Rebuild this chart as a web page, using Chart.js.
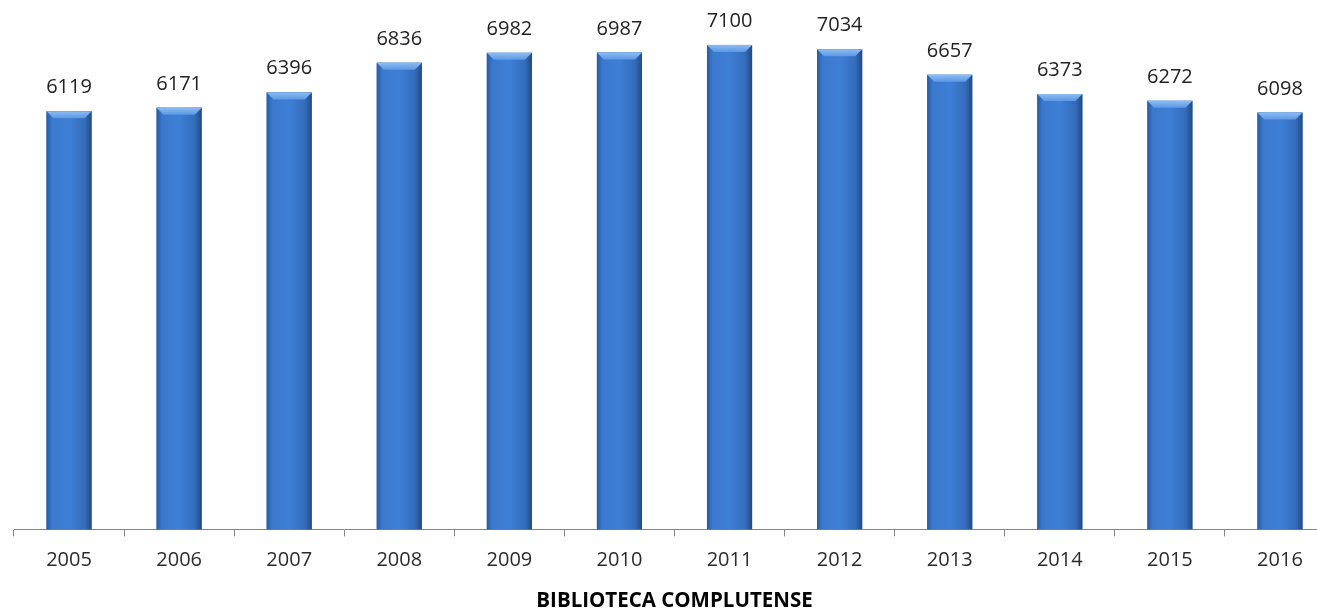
<!DOCTYPE html>
<html>
<head>
<meta charset="utf-8">
<script src="https://cdn.jsdelivr.net/npm/chart.js@4.4.1/dist/chart.umd.min.js"></script>
<style>
  html, body { margin: 0; padding: 0; background: #fff; overflow: hidden; }
  #wrap { width: 1340px; height: 616px; }
</style>
</head>
<body>
<div id="wrap"><canvas id="myChart" width="1340" height="616"></canvas></div>
<script>
const years = ['2005','2006','2007','2008','2009','2010','2011','2012','2013','2014','2015','2016'];
const visitors = [6119, 6171, 6396, 6836, 6982, 6987, 7100, 7034, 6657, 6373, 6272, 6098];
const axisTitle = 'BIBLIOTECA COMPLUTENSE';

// bevel look of the bars + value labels
const barStyle = {
    id: 'barStyle',
    afterDatasetsDraw(chart) {
        const ctx = chart.ctx;
        const meta = chart.getDatasetMeta(0);
        meta.data.forEach((bar, i) => {
            const l = bar.x - bar.width / 2, r = bar.x + bar.width / 2;
            const t = bar.y, b = bar.base;
            // side shading
            let g = ctx.createLinearGradient(l, 0, r, 0);
            g.addColorStop(0, '#2a5a9e');
            g.addColorStop(0.12, '#3a79cd');
            g.addColorStop(0.5, '#3e7fd6');
            g.addColorStop(0.85, '#346cba');
            g.addColorStop(1, '#224a84');
            ctx.fillStyle = g;
            ctx.fillRect(l, t, r - l, b - t);
            // top bevel
            const bv = 7;
            let gt = ctx.createLinearGradient(0, t, 0, t + bv);
            gt.addColorStop(0, '#8dbcf2');
            gt.addColorStop(1, '#5c98e4');
            ctx.fillStyle = gt;
            ctx.beginPath();
            ctx.moveTo(l, t);
            ctx.lineTo(r, t);
            ctx.lineTo(r - bv, t + bv);
            ctx.lineTo(l + bv, t + bv);
            ctx.closePath();
            ctx.fill();
            // value label
            ctx.fillStyle = '#222';
            ctx.font = '20px "Open Sans"';
            ctx.textAlign = 'center';
            ctx.textBaseline = 'alphabetic';
            ctx.fillText(String(visitors[i]), bar.x, t - 18);
        });
    }
};

new Chart(document.getElementById('myChart'), {
    type: 'bar',
    data: {
        labels: years,
        datasets: [{
            data: visitors,
            base: -75,
            backgroundColor: '#3f80d6',
            barPercentage: 0.41,
            categoryPercentage: 1
        }]
    },
    options: {
        responsive: false,
        animation: false,
        layout: { padding: { left: 14, right: 5, top: 1, bottom: 3 } },
        plugins: { legend: { display: false }, tooltip: { enabled: false } },
        scales: {
            y: { display: false, min: -75, max: 7750 },
            x: {
                border: { color: '#868686', width: 1 },
                grid: { drawOnChartArea: false, color: '#868686', tickLength: 7, offset: true },
                ticks: { color: '#2b2b2b', padding: 12, font: { family: 'Open Sans', size: 20 } },
                title: {
                    display: true, text: axisTitle, color: '#000',
                    font: { family: 'Open Sans', size: 20.5, weight: 'bold' },
                    padding: { top: 4, bottom: 0 }
                }
            }
        }
    },
    plugins: [barStyle]
});
</script>
</body>
</html>
